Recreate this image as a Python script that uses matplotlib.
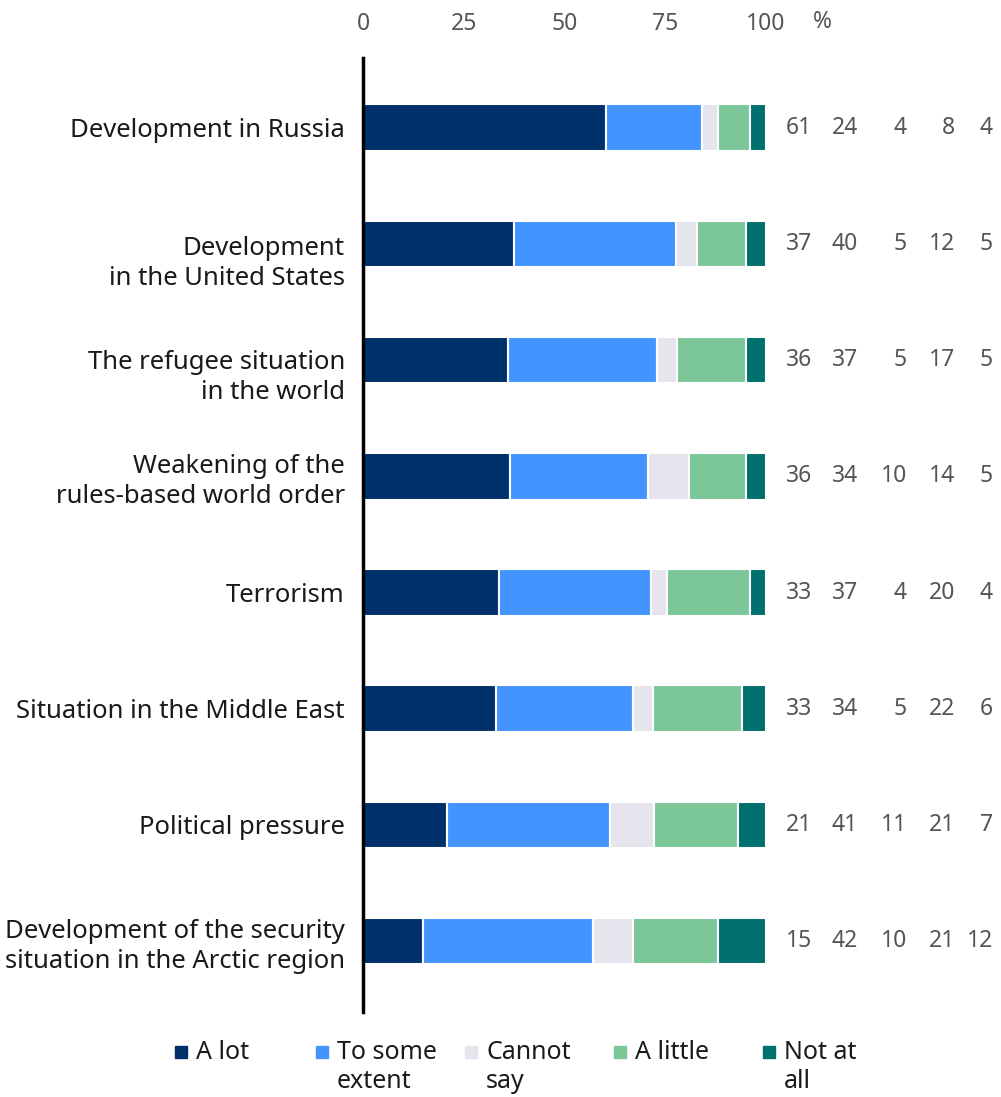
import matplotlib.pyplot as plt
import numpy as np
from matplotlib.patches import Rectangle
from matplotlib.transforms import blended_transform_factory, ScaledTranslation

plt.rcParams['font.family'] = ['Noto Sans', 'DejaVu Sans']

categories = [
    'Development in Russia',
    'Development\nin the United States',
    'The refugee situation\nin the world',
    'Weakening of the\nrules-based world order',
    'Terrorism',
    'Situation in the Middle East',
    'Political pressure',
    'Development of the security\nsituation in the Arctic region',
]
a_lot = [61, 37, 36, 36, 33, 33, 21, 15]
some_extent = [24, 40, 37, 34, 37, 34, 41, 42]
cannot_say = [4, 5, 5, 10, 4, 5, 11, 10]
a_little = [8, 12, 17, 14, 20, 22, 21, 21]
not_at_all = [4, 5, 5, 5, 4, 6, 7, 12]

series_names = ['A lot', 'To some\nextent', 'Cannot\nsay', 'A little', 'Not at\nall']
colors = ['#00306A', '#4394FF', '#E6E4EC', '#7BC799', '#00706E']

W, H = 1001, 1097
fig = plt.figure(figsize=(W / 100, H / 100), dpi=100)
ax = fig.add_axes([363 / W, 1 - 1012 / H, (766 - 363) / W, (1012 - 58) / H])

series = np.array([a_lot, some_extent, cannot_say, a_little, not_at_all], dtype=float)
# rounded shares don't always add to 100, bars are drawn as full 100 %
shares = series / series.sum(axis=0) * 100
y = np.arange(len(categories))
left = np.zeros(len(categories))
for vals, c in zip(shares, colors):
    ax.barh(y, vals, left=left, height=0.40, color=c, edgecolor='white', linewidth=1.5)
    left += vals

ax.set_xlim(0, 100)
ax.set_ylim(7.61, -0.6)
ax.xaxis.tick_top()
ax.set_xticks([0, 25, 50, 75, 100])
ax.tick_params(axis='x', length=0, labelsize=16.5, labelcolor='#555555', pad=16)
ax.set_yticks(y)
ax.set_yticklabels(categories, fontsize=18.5, color='#1a1a1a', ha='right',
                   linespacing=1.25)
ax.tick_params(axis='y', length=0, pad=13)
for s in ['top', 'right', 'bottom']:
    ax.spines[s].set_visible(False)
ax.spines['left'].set_linewidth(2.5)
ax.spines['left'].set_color('black')

# two of the labels sit a bit lower than their bar in the original
for idx, px in [(1, 14), (2, 12)]:
    lab = ax.get_yticklabels()[idx]
    lab.set_transform(lab.get_transform() + ScaledTranslation(0, -px / 100, fig.dpi_scale_trans))

fig.text(822 / W, 1 - 22 / H, '%', fontsize=16.5, color='#555555', ha='center', va='center')

# value columns on the right
col_x = [812, 858, 907, 955, 993]
tr = blended_transform_factory(fig.transFigure, ax.transData)
for j, vals in enumerate(series):
    for i, v in enumerate(vals):
        ax.text(col_x[j] / W, i, f'{int(v)}', transform=tr, fontsize=16.5,
                color='#555555', ha='right', va='center', clip_on=False)

# legend
leg_sq = [175, 316, 465, 614, 763]
for sx, name, c in zip(leg_sq, series_names, colors):
    fig.patches.append(Rectangle((sx / W, 1 - 1058 / H), 12 / W, 12 / H,
                                 transform=fig.transFigure, color=c))
    fig.text((sx + 21) / W, 1 - 1040 / H, name, fontsize=18, color='#1a1a1a',
             ha='left', va='top', linespacing=1.2)

fig.savefig('out.png', dpi=100)
